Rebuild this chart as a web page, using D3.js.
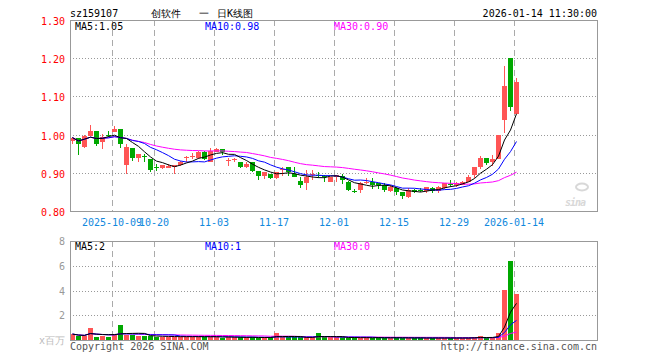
<!DOCTYPE html>
<html>
<head>
<meta charset="utf-8">
<script src="https://cdn.jsdelivr.net/npm/d3@7"></script>
<style>
  body { margin: 0; background: #fff; }
  text { font-family: "DejaVu Sans Mono", monospace; font-size: 10px; }
</style>
</head>
<body>
<div id="chart"></div>
<script>
// trading days shown (one candle each)
var dates = [
  "2025-09-22","2025-09-23","2025-09-24","2025-09-25","2025-09-26","2025-09-29","2025-09-30",
  "2025-10-09","2025-10-10","2025-10-13","2025-10-14","2025-10-15","2025-10-16","2025-10-17",
  "2025-10-20","2025-10-21","2025-10-22","2025-10-23","2025-10-24","2025-10-27","2025-10-28",
  "2025-10-29","2025-10-30","2025-10-31","2025-11-03","2025-11-04","2025-11-05","2025-11-06",
  "2025-11-07","2025-11-10","2025-11-11","2025-11-12","2025-11-13","2025-11-14","2025-11-17",
  "2025-11-18","2025-11-19","2025-11-20","2025-11-21","2025-11-24","2025-11-25","2025-11-26",
  "2025-11-27","2025-11-28","2025-12-01","2025-12-02","2025-12-03","2025-12-04","2025-12-05",
  "2025-12-08","2025-12-09","2025-12-10","2025-12-11","2025-12-12","2025-12-15","2025-12-16",
  "2025-12-17","2025-12-18","2025-12-19","2025-12-22","2025-12-23","2025-12-24","2025-12-25",
  "2025-12-26","2025-12-29","2025-12-30","2025-12-31","2026-01-05","2026-01-06","2026-01-07",
  "2026-01-08","2026-01-09","2026-01-12","2026-01-13","2026-01-14"
];

var opens  = [0.983,0.990,0.968,0.997,1.009,0.980,0.999,1.008,1.015,0.920,0.966,0.940,0.945,0.936,0.914,
              0.912,0.913,0.914,0.920,0.940,0.943,0.938,0.955,0.929,0.955,0.961,0.932,0.934,0.927,0.915,
              0.927,0.905,0.891,0.898,0.887,0.909,0.915,0.898,0.879,0.874,0.896,0.894,0.891,0.877,0.888,
              0.891,0.876,0.853,0.856,0.875,0.877,0.874,0.867,0.853,0.860,0.850,0.837,0.856,0.855,0.853,
              0.860,0.853,0.860,0.871,0.867,0.869,0.877,0.895,0.916,0.939,0.928,0.937,1.038,1.200,1.055];
var highs  = [0.994,0.990,0.999,1.025,1.009,1.002,1.009,1.023,1.015,0.976,0.966,0.948,0.948,0.936,0.922,
              0.921,0.922,0.920,0.930,0.943,0.952,0.957,0.957,0.964,0.964,0.961,0.938,0.938,0.928,0.927,
              0.927,0.905,0.902,0.898,0.902,0.915,0.915,0.914,0.890,0.907,0.907,0.902,0.895,0.890,0.895,
              0.897,0.878,0.858,0.876,0.886,0.886,0.874,0.872,0.869,0.863,0.850,0.860,0.858,0.860,0.863,
              0.863,0.865,0.874,0.881,0.877,0.879,0.895,0.916,0.944,0.939,0.947,0.999,1.179,1.200,1.148];
var lows   = [0.976,0.947,0.966,0.997,0.971,0.961,0.994,1.008,0.966,0.898,0.931,0.927,0.929,0.903,0.906,
              0.911,0.912,0.898,0.919,0.929,0.935,0.937,0.934,0.927,0.954,0.947,0.919,0.927,0.913,0.912,
              0.903,0.880,0.885,0.885,0.885,0.891,0.891,0.888,0.860,0.855,0.881,0.886,0.877,0.876,0.877,
              0.870,0.853,0.846,0.846,0.870,0.858,0.858,0.851,0.850,0.841,0.832,0.834,0.846,0.850,0.848,
              0.846,0.848,0.858,0.863,0.862,0.867,0.876,0.886,0.911,0.921,0.918,0.935,1.003,1.062,1.054];
var closes = [0.992,0.975,0.997,1.009,0.976,0.994,0.998,1.015,0.975,0.968,0.940,0.948,0.944,0.908,0.913,
              0.920,0.919,0.920,0.929,0.941,0.944,0.955,0.936,0.957,0.962,0.954,0.933,0.935,0.915,0.924,
              0.906,0.892,0.901,0.887,0.901,0.910,0.901,0.890,0.867,0.890,0.897,0.893,0.889,0.888,0.893,
              0.881,0.856,0.852,0.872,0.876,0.867,0.867,0.856,0.863,0.850,0.839,0.856,0.849,0.854,0.862,
              0.853,0.862,0.872,0.870,0.874,0.877,0.888,0.916,0.940,0.926,0.937,0.999,1.127,1.071,1.138];
// volume, millions
var volumes = [0.48,0.32,0.32,0.97,0.27,0.32,0.27,0.38,1.21,0.43,0.38,0.32,0.32,0.32,0.27,
               0.27,0.27,0.27,0.27,0.27,0.27,0.27,0.27,0.27,0.27,0.16,0.27,0.21,0.21,0.21,
               0.21,0.16,0.21,0.21,0.59,0.21,0.21,0.21,0.21,0.21,0.21,0.54,0.21,0.21,0.21,
               0.21,0.16,0.21,0.16,0.21,0.16,0.21,0.16,0.16,0.21,0.16,0.16,0.16,0.16,0.16,
               0.16,0.16,0.16,0.16,0.16,0.16,0.16,0.24,0.32,0.13,0.18,0.54,4.03,6.37,3.70];

var dateTicks = ["2025-10-09","2025-10-20","2025-11-03","2025-11-17","2025-12-01","2025-12-15","2025-12-29","2026-01-14"];
var dateTickLabels = ["2025-10-09","10-20","11-03","11-17","12-01","12-15","12-29","2026-01-14"];
var priceTicks = [0.80, 0.90, 1.00, 1.10, 1.20, 1.30];
var volTicks = [2, 4, 6, 8];
var maPeriods = [5, 10, 30];
var maColors = ["#000", "#0000ff", "#ff00ff"];
var priceMaLabels = ["MA5:1.05", "MA10:0.98", "MA30:0.90"];
var volMaLabels = ["MA5:2", "MA10:1", "MA30:0"];

var width = 660, height = 360;
var left = 70, right = 597;
var mainTop = 20, mainBottom = 211;
var volTop = 241, volBottom = 340;
var upColor = "#ff5555", downColor = "#00a800";

var svg = d3.select("#chart").append("svg")
  .attr("width", width)
  .attr("height", height);

var x = d3.scaleBand()
  .domain(dates)
  .range([left, left + dates.length * 6])
  .padding(0);

var y = d3.scaleLinear().domain([0.80, 1.30]).range([mainBottom, mainTop]);
var yv = d3.scaleLinear().domain([0, 8]).range([volBottom, volTop]);

var candles = dates.map(function(d, i) {
  return {date: d, o: opens[i], h: highs[i], l: lows[i], c: closes[i], v: volumes[i]};
});

function movingAvg(values, n) {
  return values.map(function(v, i) {
    var s = values.slice(Math.max(0, i - n + 1), i + 1);
    return d3.mean(s);
  });
}

// grid
var grid = svg.append("g").attr("shape-rendering", "crispEdges");

[[mainTop, mainBottom], [volTop, volBottom]].forEach(function(r) {
  grid.selectAll(null)
    .data(dateTicks)
    .enter().append("line")
    .attr("x1", function(d) { return x(d) + 0.5; })
    .attr("x2", function(d) { return x(d) + 0.5; })
    .attr("y1", r[0])
    .attr("y2", r[1])
    .attr("stroke", "#aaa")
    .attr("stroke-dasharray", "6,4");
});

grid.selectAll(null)
  .data(priceTicks.slice(1, -1))
  .enter().append("line")
  .attr("x1", left).attr("x2", right)
  .attr("y1", function(d) { return Math.round(y(d)) + 0.5; })
  .attr("y2", function(d) { return Math.round(y(d)) + 0.5; })
  .attr("stroke", "#999")
  .attr("stroke-dasharray", "1,2");

grid.selectAll(null)
  .data(volTicks.slice(0, -1))
  .enter().append("line")
  .attr("x1", left).attr("x2", right)
  .attr("y1", function(d) { return Math.round(yv(d)) + 0.5; })
  .attr("y2", function(d) { return Math.round(yv(d)) + 0.5; })
  .attr("stroke", "#999")
  .attr("stroke-dasharray", "1,2");

// sina watermark
var wm = svg.append("g").attr("transform", "translate(565,206)");
wm.append("text")
  .attr("font-family", "DejaVu Sans")
  .attr("font-size", 18)
  .attr("font-weight", "bold")
  .attr("font-style", "italic")
  .attr("fill", "#d8d8d8")
  .attr("letter-spacing", -1)
  .text("sina");
wm.append("ellipse")
  .attr("cx", 17).attr("cy", -19).attr("rx", 6).attr("ry", 3.5)
  .attr("fill", "none").attr("stroke", "#d8d8d8").attr("stroke-width", 2);

// volume bars
svg.append("g").selectAll("rect")
  .data(candles)
  .enter().append("rect")
  .attr("x", function(d) { return x(d.date); })
  .attr("width", 5)
  .attr("y", function(d) { return yv(d.v); })
  .attr("height", function(d) { return volBottom - yv(d.v); })
  .attr("fill", function(d) { return d.c >= d.o ? upColor : downColor; })
  .attr("shape-rendering", "crispEdges");

// candles
var cg = svg.append("g").attr("shape-rendering", "crispEdges");
cg.selectAll("line")
  .data(candles)
  .enter().append("line")
  .attr("x1", function(d) { return x(d.date) + 2.5; })
  .attr("x2", function(d) { return x(d.date) + 2.5; })
  .attr("y1", function(d) { return y(d.h); })
  .attr("y2", function(d) { return y(d.l); })
  .attr("stroke", function(d) { return d.c >= d.o ? upColor : downColor; });

cg.selectAll("rect")
  .data(candles)
  .enter().append("rect")
  .attr("x", function(d) { return x(d.date); })
  .attr("width", 5)
  .attr("y", function(d) { return y(Math.max(d.o, d.c)); })
  .attr("height", function(d) { return Math.max(1, Math.abs(y(d.o) - y(d.c))); })
  .attr("fill", function(d) { return d.c >= d.o ? upColor : downColor; });

// moving averages
var lineP = d3.line()
  .x(function(d, i) { return x(dates[i]) + 2.5; })
  .y(function(d) { return y(d); });
var lineV = d3.line()
  .x(function(d, i) { return x(dates[i]) + 2.5; })
  .y(function(d) { return yv(d); });

maPeriods.slice().reverse().forEach(function(n, k) {
  var idx = maPeriods.length - 1 - k;
  svg.append("path")
    .attr("d", lineP(movingAvg(closes, n)))
    .attr("fill", "none")
    .attr("stroke", maColors[idx])
    .attr("stroke-width", 1);
  svg.append("path")
    .attr("d", lineV(movingAvg(volumes, n)))
    .attr("fill", "none")
    .attr("stroke", maColors[idx])
    .attr("stroke-width", 1);
});

// frames
svg.append("rect")
  .attr("x", left + 0.5).attr("y", mainTop + 0.5)
  .attr("width", right - left).attr("height", mainBottom - mainTop)
  .attr("fill", "none").attr("stroke", "#999")
  .attr("shape-rendering", "crispEdges");
svg.append("rect")
  .attr("x", left + 0.5).attr("y", volTop + 0.5)
  .attr("width", right - left).attr("height", volBottom - volTop)
  .attr("fill", "none").attr("stroke", "#999")
  .attr("shape-rendering", "crispEdges");

// axis labels
svg.append("g").selectAll("text")
  .data(priceTicks)
  .enter().append("text")
  .attr("x", 65)
  .attr("y", function(d) { return y(d) + 5; })
  .attr("text-anchor", "end")
  .attr("fill", "#f00")
  .text(function(d) { return d.toFixed(2); });

svg.append("g").selectAll("text")
  .data(volTicks)
  .enter().append("text")
  .attr("x", 65)
  .attr("y", function(d) { return yv(d) + 4; })
  .attr("text-anchor", "end")
  .attr("fill", "#999")
  .text(function(d) { return d; });

svg.append("text")
  .attr("x", 65).attr("y", 344)
  .attr("text-anchor", "end")
  .attr("fill", "#bbb")
  .attr("font-family", "Noto Sans CJK SC")
  .text("x百万");

svg.append("g").selectAll("text")
  .data(dateTicks)
  .enter().append("text")
  .attr("x", function(d) { return x(d); })
  .attr("y", 226)
  .attr("text-anchor", "middle")
  .attr("fill", "#1188dd")
  .text(function(d, i) { return dateTickLabels[i]; });

// legends
var legX = [75, 205, 334];
priceMaLabels.forEach(function(t, i) {
  svg.append("text").attr("x", legX[i]).attr("y", 30).attr("fill", maColors[i]).text(t);
});
volMaLabels.forEach(function(t, i) {
  svg.append("text").attr("x", legX[i]).attr("y", 250).attr("fill", maColors[i]).text(t);
});

// header and footer
svg.append("text").attr("x", 70).attr("y", 17).attr("fill", "#000").text("sz159107");
var title = svg.append("text")
  .attr("y", 17)
  .attr("font-family", "Noto Sans CJK SC")
  .attr("font-size", 14)
  .attr("font-weight", 500)
  .attr("fill", "#000");
title.append("tspan").attr("x", 151).text("创软件");
title.append("tspan").attr("x", 199).text("一");
title.append("tspan").attr("x", 217).text("日K线图");

svg.append("text").attr("x", 597).attr("y", 17).attr("text-anchor", "end").attr("fill", "#000")
  .text("2026-01-14 11:30:00");
svg.append("text").attr("x", 70).attr("y", 350).attr("fill", "#555").text("Copyright 2026 SINA.COM");
svg.append("text").attr("x", 597).attr("y", 350).attr("text-anchor", "end").attr("fill", "#555")
  .text("http://finance.sina.com.cn");
</script>
</body>
</html>
